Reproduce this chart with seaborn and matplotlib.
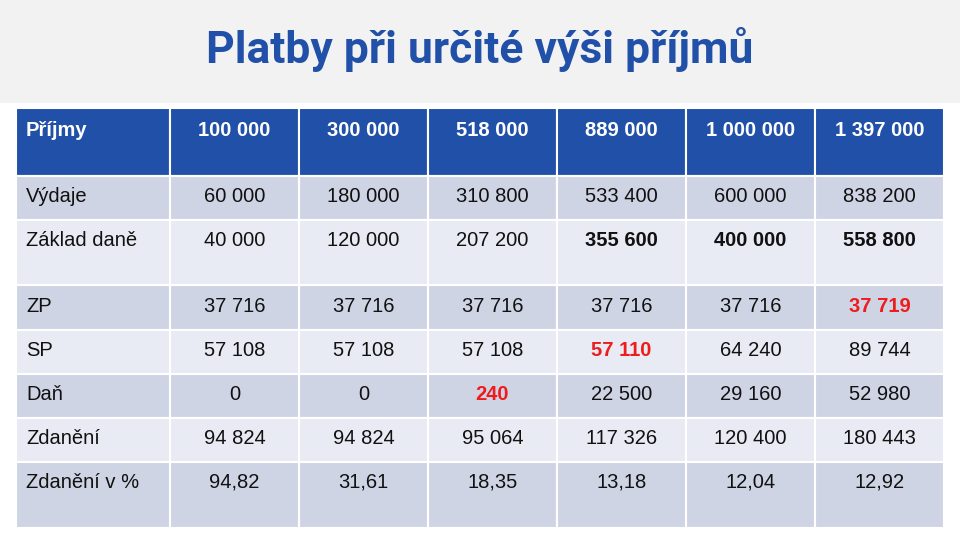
import matplotlib
matplotlib.use("Agg")
import matplotlib.pyplot as plt
import seaborn as sns

sns.set_theme(style="white")
plt.rcParams['font.family'] = ['Liberation Sans', 'DejaVu Sans']

title = "Platby při určité výši příjmů"
header = ["Příjmy", "100 000", "300 000", "518 000", "889 000", "1 000 000", "1 397 000"]
row_labels = ["Výdaje", "Základ daně", "ZP", "SP", "Daň", "Zdanění", "Zdanění v %"]
values = [
    ["60 000", "180 000", "310 800", "533 400", "600 000", "838 200"],
    ["40 000", "120 000", "207 200", "355 600", "400 000", "558 800"],
    ["37 716", "37 716", "37 716", "37 716", "37 716", "37 719"],
    ["57 108", "57 108", "57 108", "57 110", "64 240", "89 744"],
    ["0", "0", "240", "22 500", "29 160", "52 980"],
    ["94 824", "94 824", "95 064", "117 326", "120 400", "180 443"],
    ["94,82", "31,61", "18,35", "13,18", "12,04", "12,92"],
]
# style: 0 normal, 1 bold black, 2 bold red
styles = [
    [0, 0, 0, 0, 0, 0],
    [0, 0, 0, 1, 1, 1],
    [0, 0, 0, 0, 0, 2],
    [0, 0, 0, 2, 0, 0],
    [0, 0, 2, 0, 0, 0],
    [0, 0, 0, 0, 0, 0],
    [0, 0, 0, 0, 0, 0],
]

col_edges = [16, 170, 299, 428, 557, 686, 815, 944]
row_edges = [108, 176, 220, 285, 330, 374, 418, 462, 528]
row_text_y = [130, 197, 240, 307, 351, 395, 439, 482]
blue = "#2150a8"
row_colors = ["#cfd4e5", "#e8ebf3"]

fig = plt.figure(figsize=(9.6, 5.4), dpi=100)
ax = fig.add_axes([0, 0, 1, 1])
ax.set_xlim(0, 960)
ax.set_ylim(540, 0)
ax.axis("off")

ax.bar(480, 103, width=960, bottom=0, color="#f2f2f2", linewidth=0)
ax.text(480, 50, title, ha="center", va="center", fontsize=32, fontweight="bold",
        color=blue, family=["Roboto", "DejaVu Sans"])

for r in range(len(row_edges) - 1):
    color = blue if r == 0 else row_colors[(r - 1) % 2]
    for c in range(len(col_edges) - 1):
        x0, x1 = col_edges[c], col_edges[c + 1]
        y0, y1 = row_edges[r], row_edges[r + 1]
        ax.bar((x0 + x1) / 2, y1 - y0, width=x1 - x0, bottom=y0, color=color,
               edgecolor="white", linewidth=1.5)
        if r == 0:
            txt, col, fw = header[c], "white", "bold"
        elif c == 0:
            txt, col, fw = row_labels[r - 1], "#111111", "normal"
        else:
            s = styles[r - 1][c - 1]
            txt = values[r - 1][c - 1]
            col = "#ee1c1c" if s == 2 else "#111111"
            fw = "bold" if s else "normal"
        if c == 0:
            ax.text(x0 + 10, row_text_y[r], txt, ha="left", va="center",
                    fontsize=14.5, color=col, fontweight=fw)
        else:
            ax.text((x0 + x1) / 2, row_text_y[r], txt, ha="center", va="center",
                    fontsize=14.5, color=col, fontweight=fw)

fig.savefig("out.png", dpi=100)
